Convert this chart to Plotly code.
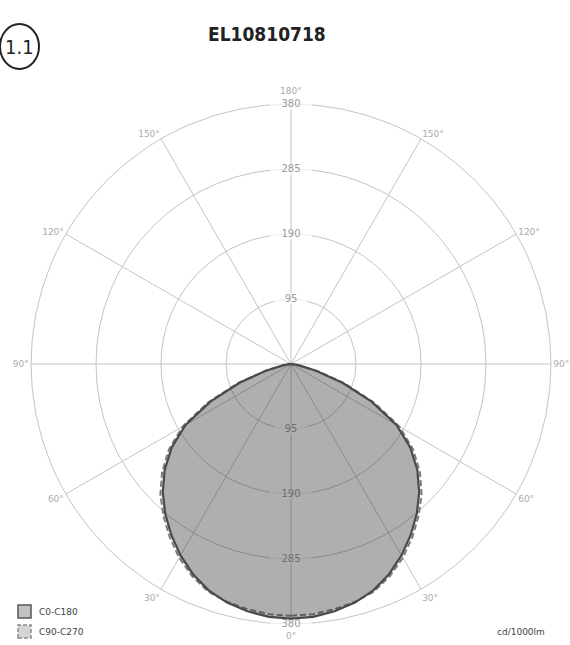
import plotly.graph_objects as go

# Luminous intensity distribution (cd/1000lm) per gamma angle, symmetric about the nadir
gamma = [0, 5, 10, 15, 20, 25, 30, 35, 40, 45, 50, 55, 60, 65, 70, 75, 80, 85, 90]
c0_c180 = [372, 371, 367, 361, 352, 339, 323, 305, 286, 265, 241, 213, 178, 130, 80, 38, 12, 3, 0]
c90_c270 = [368, 367, 364, 360, 354, 342, 327, 309, 290, 270, 246, 218, 183, 135, 84, 40, 12, 3, 0]

radial_ticks = [95, 190, 285, 380]
angle_ticks = [0, 30, 60, 90, 120, 150, 180, 210, 240, 270, 300, 330]
# 0° and 180° are written separately, outside the value labels on the vertical axis
angle_text = ["", "30°", "60°", "90°", "120°", "150°", "",
              "150°", "120°", "90°", "60°", "30°"]

W, H = 570, 645
GRID = "#c4c4c4"
NARROW = "Liberation Sans Narrow, DejaVu Sans Condensed, sans-serif"


def mirrored(vals):
    """Full curve: right half at +gamma, left half at 360-gamma."""
    theta = list(gamma) + [360 - g for g in reversed(gamma)]
    r = list(vals) + list(reversed(vals))
    return r, theta


def px(x):
    return x / W


def py(y):
    return 1 - y / H


def note(x, y, text, font, xanchor="center"):
    fig.add_annotation(x=px(x), y=py(y), xref="paper", yref="paper", text=text,
                       showarrow=False, xanchor=xanchor, yanchor="middle", font=font)


fig = go.Figure()

# radial value labels on the vertical axis, with a white knock-out behind each
lab_r = radial_ticks + radial_ticks
lab_t = [180] * len(radial_ticks) + [0] * len(radial_ticks)
lab_txt = [str(v) for v in lab_r]
fig.add_trace(go.Scatterpolar(
    r=lab_r, theta=lab_t, mode="markers",
    marker=dict(symbol="line-ew", size=[12 + 6 * len(t) for t in lab_txt],
                line=dict(color="white", width=11)),
    hoverinfo="skip", showlegend=False))
fig.add_trace(go.Scatterpolar(
    r=lab_r, theta=lab_t, mode="text", text=lab_txt,
    textfont=dict(family="DejaVu Sans", size=10, color="#9a9a9a"),
    hoverinfo="skip", showlegend=False))

r90, t90 = mirrored(c90_c270)
fig.add_trace(go.Scatterpolar(
    r=r90, theta=t90, mode="lines", fill="toself",
    fillcolor="rgba(60,60,60,0.06)",
    line=dict(color="#7c7c7c", width=2, dash="6px,3px"),
    name="C90-C270", showlegend=False))

r0, t0 = mirrored(c0_c180)
fig.add_trace(go.Scatterpolar(
    r=r0, theta=t0, mode="lines", fill="toself",
    fillcolor="rgba(40,40,45,0.34)",
    line=dict(color="#4a4a4a", width=2.2),
    name="C0-C180", showlegend=False))

fig.update_layout(
    width=W, height=H,
    margin=dict(l=0, r=0, t=0, b=0),
    paper_bgcolor="white",
    showlegend=False,
    polar=dict(
        domain=dict(x=[px(31), px(551)], y=[py(624), py(104)]),
        bgcolor="white",
        radialaxis=dict(range=[0, 380], tickvals=radial_ticks, showticklabels=False,
                        ticks="", showline=False, gridcolor=GRID, gridwidth=1,
                        layer="below traces"),
        angularaxis=dict(rotation=270, direction="counterclockwise",
                         tickmode="array", tickvals=angle_ticks, ticktext=angle_text,
                         ticks="", showline=True, linecolor=GRID, linewidth=1,
                         gridcolor=GRID, gridwidth=1, layer="below traces",
                         tickfont=dict(family="DejaVu Sans", size=9, color="#ababab")),
    ),
)

tick_font = dict(family="DejaVu Sans", size=9, color="#ababab")
note(291, 91, "180°", tick_font)
note(291, 636, "0°", tick_font)

# header: section marker and product code
fig.add_shape(type="circle", xref="paper", yref="paper",
              x0=px(0), x1=px(39), y0=py(69), y1=py(24),
              line=dict(color="#222222", width=2))
note(19.5, 47, "1.1", dict(family=NARROW, size=20, color="#222222"))
note(267, 34, "<b>EL10810718</b>", dict(family=NARROW, size=19, color="#222222"))

# legend
fig.add_shape(type="rect", xref="paper", yref="paper",
              x0=px(18), x1=px(31), y0=py(618), y1=py(605),
              fillcolor="#c2c2c2", line=dict(color="#555555", width=1.5))
fig.add_shape(type="rect", xref="paper", yref="paper",
              x0=px(18), x1=px(31), y0=py(638), y1=py(625),
              fillcolor="#d4d4d4", line=dict(color="#8a8a8a", width=1.5, dash="4px,2px"))
legend_font = dict(family="DejaVu Sans", size=9, color="#444444")
note(37, 611.5, "C0-C180", legend_font, xanchor="left")
note(37, 631.5, "C90-C270", legend_font, xanchor="left")
note(547, 632, "cd/1000lm", legend_font, xanchor="right")

fig.write_html("out.html")
